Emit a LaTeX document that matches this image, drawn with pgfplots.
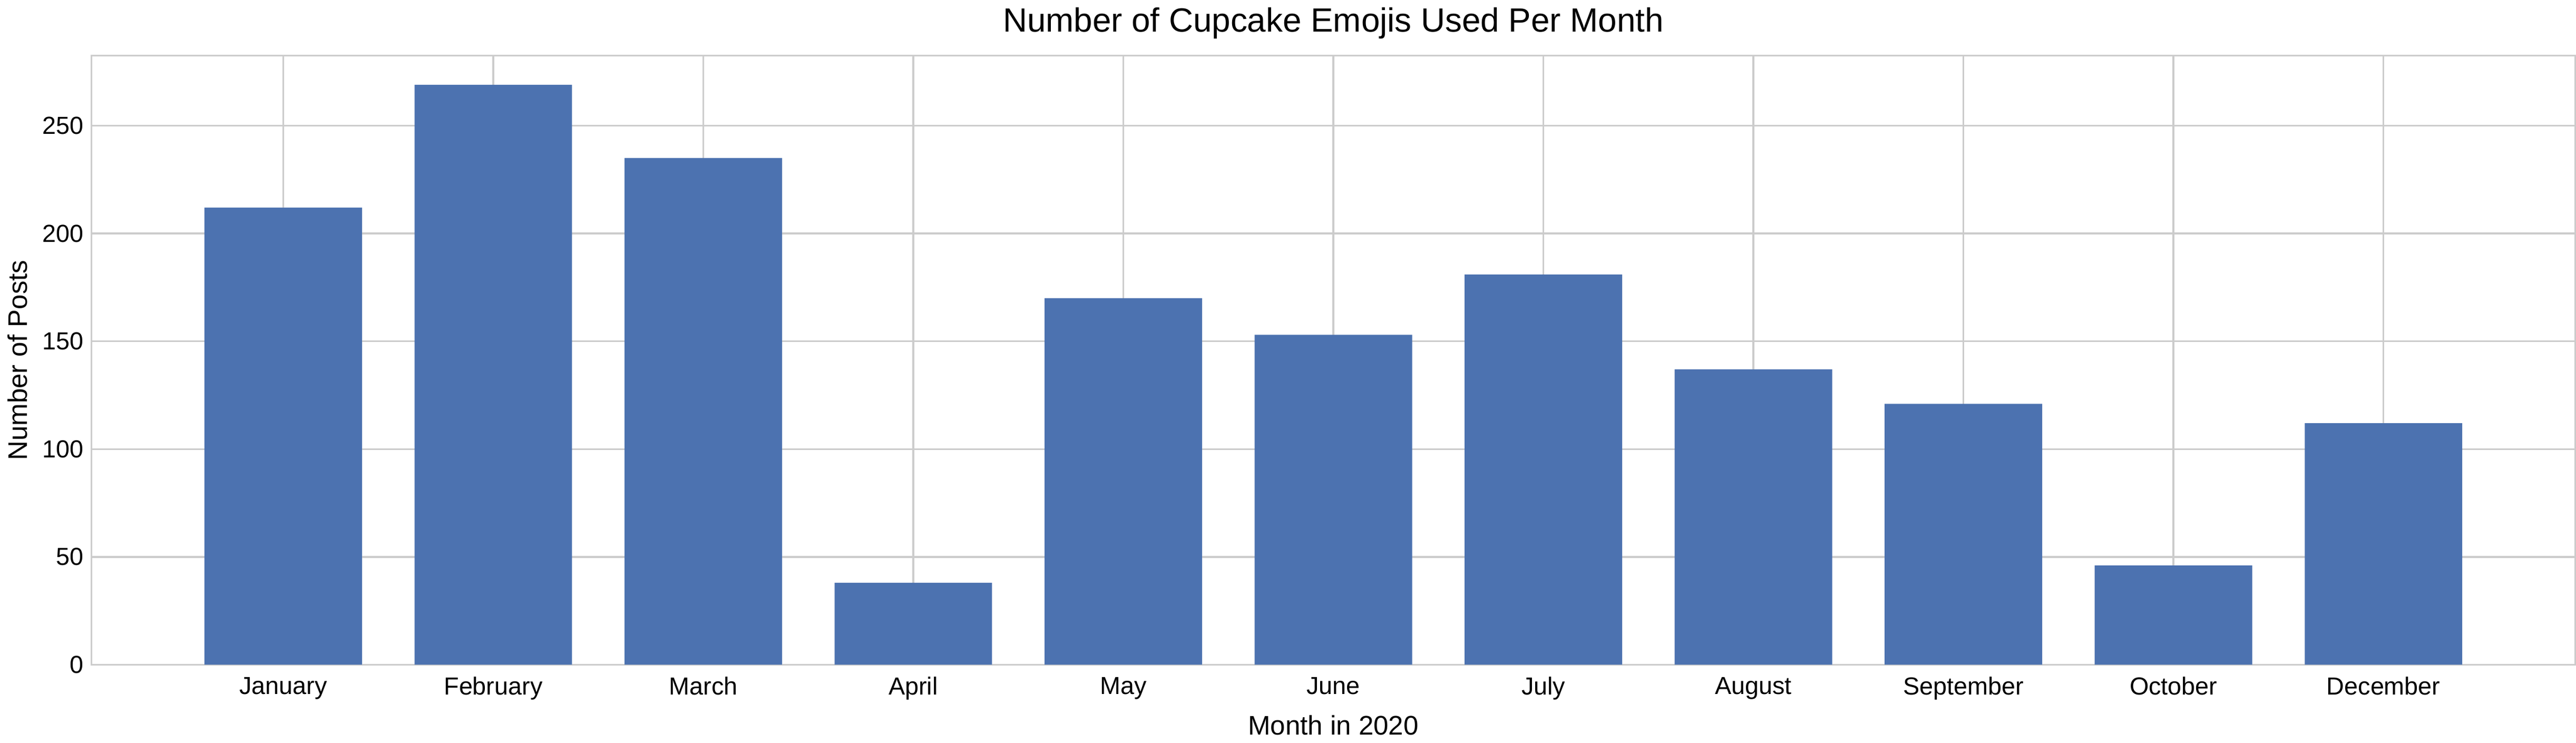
\documentclass[border=0pt]{standalone}
\usepackage{pgfplots}
\pgfplotsset{compat=1.18}
\usepackage{fontspec}
\setmainfont{Liberation Sans}
\definecolor{barblue}{HTML}{4C72B0}
\definecolor{gridgray}{HTML}{CCCCCC}
\begin{document}
\begin{tikzpicture}
\begin{axis}[
  width=1109pt, height=272pt, scale only axis,
  ybar, bar width=0.75, bar shift=0pt,
  xmin=-0.9125, xmax=10.9125, ymin=0, ymax=282.5,
  xtick={0,...,10},
  xticklabels={January,February,March,April,May,June,July,August,September,October,December},
  ytick={0,50,100,150,200,250},
  grid=major, major grid style={gridgray, line width=0.8pt},
  axis line style={gridgray, line width=0.8pt},
  major tick length=0pt,
  tick label style={font=\fontsize{11}{13}\selectfont},
  /pgf/number format/assume math mode=true,
  xlabel={Month in 2020}, ylabel={Number of Posts},
  label style={font=\fontsize{12}{14}\selectfont},
  title={Number of Cupcake Emojis Used Per Month},
  title style={font=\fontsize{15}{18}\selectfont, yshift=-2pt},
  xticklabel style={yshift=-2pt},
  axis on top=false,
]
\addplot[fill=barblue, draw=none] coordinates {
(0,212) (1,269) (2,235) (3,38) (4,170) (5,153) (6,181) (7,137) (8,121) (9,46) (10,112)};
\end{axis}
\end{tikzpicture}
\end{document}
